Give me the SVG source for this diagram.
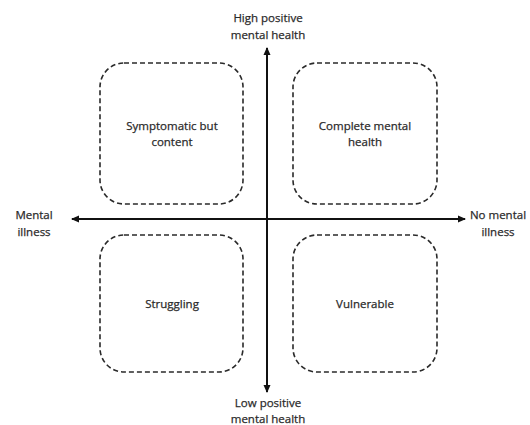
<svg xmlns="http://www.w3.org/2000/svg" width="530" height="425" viewBox="0 0 530 425">
<defs>
<marker id="ah" markerWidth="8" markerHeight="8" refX="7" refY="4" orient="auto" markerUnits="userSpaceOnUse">
<path d="M0,0.5 L8,4 L0,7.5 Z" fill="#111"/>
</marker>
<style>
.box{fill:none;stroke:#2a2a2a;stroke-width:1.6;stroke-dasharray:5,3}
.t{font-family:"Open Sans","Liberation Sans",sans-serif;font-size:11.5px;fill:#2a2a2a;stroke:#2a2a2a;stroke-width:0.25;text-anchor:middle}
.ax{stroke:#111;stroke-width:2;fill:none}
</style>
</defs>
<rect width="530" height="425" fill="#fff"/>
<g id="connectors">
<line class="ax" x1="267" y1="219" x2="267" y2="48" marker-end="url(#ah)"/>
<line class="ax" x1="267" y1="219" x2="267" y2="392" marker-end="url(#ah)"/>
<line class="ax" x1="267" y1="219" x2="72" y2="219" marker-end="url(#ah)"/>
<line class="ax" x1="267" y1="219" x2="465" y2="219" marker-end="url(#ah)"/>
</g>
<g id="q1">
<rect class="box" x="100" y="63" width="143" height="141" rx="24"/>
<text class="t" x="172" y="130">Symptomatic but</text>
<text class="t" x="172" y="146">content</text>
</g>
<g id="q2">
<rect class="box" x="293" y="63" width="144" height="141" rx="24"/>
<text class="t" x="365" y="130">Complete mental</text>
<text class="t" x="365" y="146">health</text>
</g>
<g id="q3">
<rect class="box" x="100" y="235" width="143" height="137" rx="24"/>
<text class="t" x="172" y="308">Struggling</text>
</g>
<g id="q4">
<rect class="box" x="293" y="235" width="144" height="137" rx="24"/>
<text class="t" x="365" y="308">Vulnerable</text>
</g>
<g id="top-label">
<text class="t" x="268" y="22">High positive</text>
<text class="t" x="268" y="39">mental health</text>
</g>
<g id="bottom-label">
<text class="t" x="268" y="407">Low positive</text>
<text class="t" x="268" y="423">mental health</text>
</g>
<g id="left-label">
<text class="t" x="34" y="219">Mental</text>
<text class="t" x="34" y="236">illness</text>
</g>
<g id="right-label">
<text class="t" x="498" y="219">No mental</text>
<text class="t" x="498" y="236">illness</text>
</g>
</svg>
